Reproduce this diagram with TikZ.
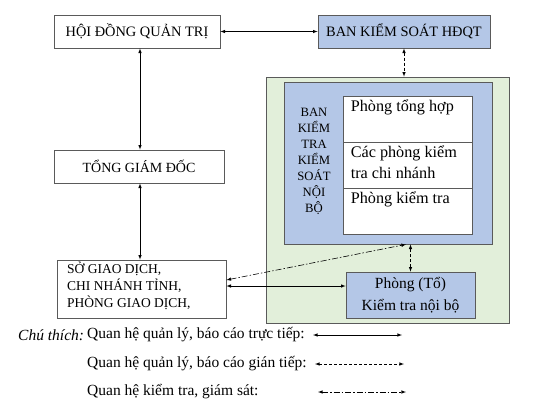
\documentclass[tikz,border=0pt]{standalone}
\usepackage{fontspec}
\setmainfont{Liberation Serif}
\usetikzlibrary{shapes,arrows}
\definecolor{boxblue}{RGB}{180,199,231}
\definecolor{boxgreen}{RGB}{226,239,218}
\definecolor{boxline}{RGB}{90,90,90}

\begin{document}
\begin{tikzpicture}[x=1pt, y=-1pt, >=latex]
\useasboundingbox (0,0) rectangle (546,418);
\tikzset{
  unit/.style={draw=boxline, line width=0.8pt, fill=white, inner sep=0pt},
  blueunit/.style={unit, fill=boxblue},
  celltext/.style={anchor=north west, inner sep=0pt, align=left, font=\fontsize{16.2}{21}\selectfont},
  link/.style={line width=0.6pt, <->},
  dashlink/.style={link, dash pattern=on 3pt off 2pt},
  checklink/.style={link, dash pattern=on 6pt off 2pt on 1.5pt off 2pt},
  note/.style={anchor=west, inner sep=0pt, font=\fontsize{15.5}{18}\selectfont}
}
% left column
\node[unit, minimum width=166pt, minimum height=33pt, font=\fontsize{14.4}{16}\selectfont] (hdqt) at (137,31.5) {HỘI ĐỒNG QUẢN TRỊ};
\node[unit, minimum width=170pt, minimum height=33pt, font=\fontsize{14}{16}\selectfont] (tgd) at (139,166.5) {TỔNG GIÁM ĐỐC};
\node[unit, minimum width=169pt, minimum height=58pt] (sgd) at (141.5,289) {};
\node[anchor=north west, inner sep=0pt, align=left, font=\fontsize{13.5}{17}\selectfont] at (67,262) {SỞ GIAO DỊCH,\\CHI NHÁNH TỈNH,\\PHÒNG GIAO DỊCH,};

% right column
\node[blueunit, minimum width=172pt, minimum height=33pt, font=\fontsize{14.4}{16}\selectfont] (bks) at (404,31.5) {BAN KIỂM SOÁT HĐQT};
\node[unit, fill=boxgreen, minimum width=243pt, minimum height=246pt] (kstt) at (387.5,200) {};
\node[blueunit, minimum width=208pt, minimum height=162pt] (bkt) at (388,163) {};
\node[align=center, inner sep=0pt, font=\fontsize{12.7}{16}\selectfont] (bktname) at (314,161) {BAN\\KIỂM\\TRA\\KIỂM\\SOÁT\\NỘI\\BỘ};
\node[unit, minimum width=129pt, minimum height=46pt] (ph1) at (407.5,119) {};
\node[unit, minimum width=129pt, minimum height=46pt] (ph2) at (407.5,165) {};
\node[unit, minimum width=129pt, minimum height=46pt] (ph3) at (407.5,211) {};
\node[celltext] at ([shift={(8pt,-4pt)}]ph1.north west) {Phòng tổng hợp};
\node[celltext] at ([shift={(8pt,-4pt)}]ph2.north west) {Các phòng kiểm\\tra chi nhánh};
\node[celltext] at ([shift={(8pt,-4pt)}]ph3.north west) {Phòng kiểm tra};
\node[blueunit, minimum width=129pt, minimum height=46pt, align=center, font=\fontsize{15.5}{22}\selectfont] (ptkt) at (410.5,295) {Phòng (Tổ)\\Kiểm tra nội bộ};

% connectors
\draw[link] (hdqt.east) -- (bks.west);
\draw[link] (hdqt.south -| 140,0) -- (tgd.north -| 140,0);
\draw[link] (tgd.south -| 140,0) -- (sgd.north -| 140,0);
\draw[dashlink] (bks.south) -- (bks.south |- kstt.north);
\draw[dashlink] (ptkt.north) -- (ptkt.north |- bkt.south);
\draw[link] ([yshift=3pt]sgd.east) -- ([yshift=3pt]sgd.east -| ptkt.west);
\draw[checklink] ([yshift=9pt]sgd.east) -- ([xshift=18pt]bkt.south);

% legend
\node[note, font=\fontsize{15.5}{18}\selectfont\itshape] (chuthich) at (18,335) {Chú thích:};
\node[note] (lg1) at (87,335) {Quan hệ quản lý, báo cáo trực tiếp:};
\node[note] (lg2) at (87,364) {Quan hệ quản lý, báo cáo gián tiếp:};
\node[note] (lg3) at (87,392) {Quan hệ kiểm tra, giám sát:};
\coordinate (a1) at (313,335); \coordinate (b1) at (402,335);
\coordinate (a2) at (315,364); \coordinate (b2) at (404,364);
\coordinate (a3) at (318,392); \coordinate (b3) at (406,392);
\draw[link] (a1) -- (b1);
\draw[dashlink] (a2) -- (b2);
\draw[checklink] (a3) -- (b3);
\end{tikzpicture}
\end{document}
